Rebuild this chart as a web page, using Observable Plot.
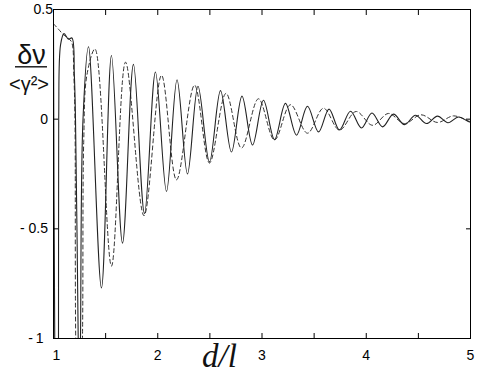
<!DOCTYPE html>
<html>
<head>
<meta charset="utf-8">
<script src="https://cdn.jsdelivr.net/npm/d3@7"></script>
<script src="https://cdn.jsdelivr.net/npm/@observablehq/plot@0.6"></script>
<style>
  html, body { margin: 0; padding: 0; background: #fff; }
  #chart svg { display: block; }
</style>
</head>
<body>
<div id="chart"></div>
<script>
// ---- data ----
const solidX = [1.000, 1.012, 1.030, 1.048, 1.050, 1.068, 1.101, 1.144, 1.177, 1.200, 1.211, 1.237, 1.248, 1.259, 1.283,
  1.336, 1.460, 1.556, 1.662, 1.767, 1.873, 1.978, 2.084, 2.185, 2.285, 2.386, 2.496, 2.602, 2.707, 2.808, 2.909,
  3.014, 3.120, 3.225, 3.331, 3.436, 3.542, 3.643, 3.743, 3.849, 3.954, 4.055, 4.156, 4.261, 4.367, 4.472, 4.578,
  4.683, 4.784, 4.885, 4.990, 5.000];
const solidY = [0.42, -1.0, -1.7, -1.0, 0.0, 0.34, 0.39, 0.365, 0.37, 0.2, 0.0, -1.0, -1.5, -1.0, 0.0,
  0.33, -0.77, 0.29, -0.565, 0.25, -0.43, 0.215, -0.33, 0.18, -0.25, 0.15, -0.195, 0.13, -0.15, 0.105, -0.118,
  0.086, -0.093, 0.072, -0.073, 0.059, -0.058, 0.046, -0.049, 0.036, -0.04, 0.028, -0.035, 0.023, -0.025, 0.018, -0.02,
  0.014, -0.016, 0.01, -0.013, -0.012];

const dashedX = [1.000, 1.048, 1.096, 1.140, 1.175, 1.195, 1.206, 1.213, 1.245, 1.278, 1.290, 1.320,
  1.398, 1.556, 1.691, 1.868, 2.036, 2.180, 2.353, 2.496, 2.655, 2.803, 2.966, 3.120, 3.273, 3.436,
  3.590, 3.743, 3.902, 4.060, 4.213, 4.367, 4.525, 4.683, 4.837, 4.990, 5.000];
const dashedY = [0.435, 0.41, 0.385, 0.37, 0.35, 0.2, 0.0, -1.0, -1.8, -1.0, -0.1, 0.2,
  0.32, -0.67, 0.26, -0.44, 0.20, -0.277, 0.155, -0.20, 0.118, -0.132, 0.093, -0.095, 0.066, -0.064,
  0.05, -0.05, 0.035, -0.028, 0.026, -0.02, 0.02, -0.015, 0.015, -0.01, -0.01];

const xTicks = [1, 1.5, 2, 2.5, 3, 3.5, 4, 4.5, 5];
const xLabelTicks = [1, 2, 3, 4, 5];
const xTickLabels = ["1", "2", "3", "4", "5"];
const yTicks = [0.5, 0, -0.5, -1];
const yTickLabels = ["0.5", "0", "- 0.5", "-\u20091"];

const yLabelTop = "\u03b4\u03bd";
const yLabelBottom = "<\u03b3\u00b2>";
const xLabel = "d/l";

// ---- build tables ----
const solid = solidX.map((x, i) => ({x, y: solidY[i]}));
const dashed = dashedX.map((x, i) => ({x, y: dashedY[i]}));
const yFmt = d => yTickLabels[yTicks.indexOf(d)];
const xFmt = d => xTickLabels[xLabelTicks.indexOf(d)];

const sans = "'Liberation Sans', Arial, Helvetica, sans-serif";

const chart = Plot.plot({
  width: 477,
  height: 381,
  marginLeft: 53,
  marginRight: 7,
  marginTop: 9,
  marginBottom: 43,
  x: {domain: [1, 5]},
  y: {domain: [-1, 0.5]},
  style: {fontFamily: sans, fontSize: "14px", background: "#fff", color: "#000"},
  marks: [
    Plot.line(dashed, {x: "x", y: "y", curve: "catmull-rom", stroke: "#333", strokeWidth: 1, strokeDasharray: "4,3", clip: true}),
    Plot.line(solid, {x: "x", y: "y", curve: "catmull-rom", stroke: "#222", strokeWidth: 1.1, clip: true}),
    Plot.frame({stroke: "#000", strokeWidth: 1}),
    // inward ticks
    Plot.axisX({anchor: "bottom", ticks: xTicks, tickSize: -5, tickFormat: () => "", label: null}),
    Plot.axisX({anchor: "top", ticks: xTicks, tickSize: -5, tickFormat: () => "", label: null}),
    Plot.axisY({anchor: "left", ticks: yTicks, tickSize: -5, tickFormat: () => "", label: null}),
    Plot.axisY({anchor: "right", ticks: yTicks, tickSize: -5, tickFormat: () => "", label: null}),
    // tick labels
    Plot.axisX({anchor: "bottom", ticks: xLabelTicks.slice(1), tickSize: 0, tickPadding: 12, tickFormat: xFmt, fontSize: 14, label: null}),
    Plot.axisX({anchor: "bottom", ticks: xLabelTicks.slice(0, 1), tickSize: 0, tickPadding: 12, dx: 3, tickFormat: xFmt, fontSize: 14, label: null}),
    Plot.axisY({anchor: "left", ticks: yTicks.slice(0, 1), tickSize: 0, tickPadding: 0.5, tickFormat: yFmt, fontSize: 14, label: null}),
    Plot.axisY({anchor: "left", ticks: yTicks.slice(1, 3), tickSize: 0, tickPadding: 5.5, tickFormat: yFmt, fontSize: 14, label: null}),
    Plot.axisY({anchor: "left", ticks: yTicks.slice(3), tickSize: 0, tickPadding: 10, tickFormat: yFmt, fontSize: 14, label: null}),
    // axis titles
    Plot.text([yLabelTop], {text: d => d, frameAnchor: "top-left", dx: -22, dy: 54.5, lineAnchor: "bottom", textAnchor: "middle", fontSize: 27, fontFamily: sans, fill: "#111"}),
    Plot.text([yLabelBottom], {text: d => d, frameAnchor: "top-left", dx: -24.5, dy: 81.5, lineAnchor: "bottom", textAnchor: "middle", fontSize: 20, fontFamily: sans, fill: "#111"}),
    Plot.text([xLabel], {text: d => d, frameAnchor: "bottom", dx: -42.5, dy: 28.5, lineAnchor: "bottom", textAnchor: "middle", fontSize: 33, fontStyle: "italic", fontFamily: "'Liberation Serif', 'Times New Roman', serif", fill: "#111"})
  ]
});

// fraction bar of the y-axis title
d3.select(chart).append("line")
  .attr("x1", 15).attr("x2", 47).attr("y1", 66.8).attr("y2", 66.8)
  .attr("stroke", "#111").attr("stroke-width", 1.4);

document.getElementById("chart").appendChild(chart);
</script>
</body>
</html>
